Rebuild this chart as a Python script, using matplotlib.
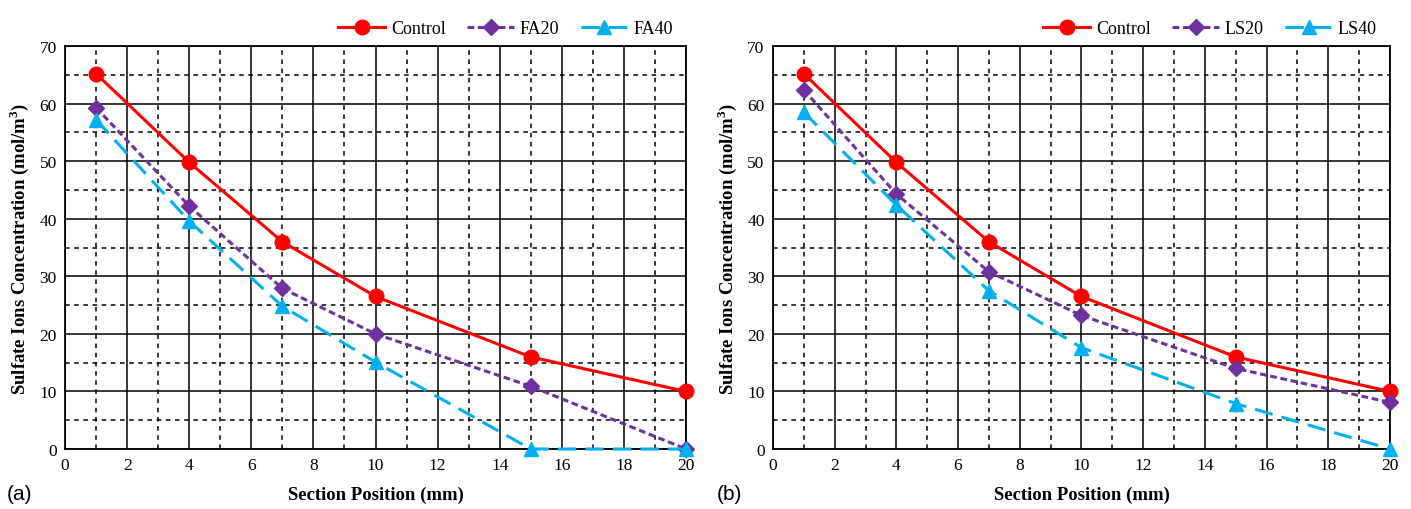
import matplotlib
matplotlib.use("Agg")
import matplotlib.pyplot as plt
from matplotlib.ticker import MultipleLocator

x = [1, 4, 7, 10, 15, 20]
control = [65.2, 49.8, 36.0, 26.5, 16.0, 10.0]
fa20 = [59.3, 42.2, 27.9, 20.0, 10.9, 0.0]
fa40 = [57.2, 39.6, 24.8, 15.1, 0.0, 0.0]
ls20 = [62.4, 44.3, 30.8, 23.2, 14.0, 8.1]
ls40 = [58.5, 42.4, 27.5, 17.6, 7.9, 0.0]

panels = [
    ("(a)", [("Control", control), ("FA20", fa20), ("FA40", fa40)]),
    ("(b)", [("Control", control), ("LS20", ls20), ("LS40", ls40)]),
]

serif = "Liberation Serif"
fig = plt.figure(figsize=(14.11, 5.10), dpi=100)
rects = [[0.0461, 0.1176, 0.4401, 0.790], [0.5478, 0.1176, 0.4373, 0.790]]
tag_x = [0.005, 0.508]

styles = [
    dict(color="#FF0000", linestyle="-", marker="o", markersize=10.5),
    dict(color="#7030A0", linestyle=(0, (2.2, 1.2)), marker="D", markersize=8),
    dict(color="#00B0F0", linestyle=(0, (6, 3)), marker="^", markersize=9.5),
]

for (tag, series), rect, tx in zip(panels, rects, tag_x):
    ax = fig.add_axes(rect)
    for (name, vals), st in zip(series, styles):
        ax.plot(x, vals, label=name, linewidth=2.2, clip_on=False, zorder=5, **st)
    ax.set_xlim(0, 20)
    ax.set_ylim(0, 70)
    ax.xaxis.set_major_locator(MultipleLocator(2))
    ax.xaxis.set_minor_locator(MultipleLocator(1))
    ax.yaxis.set_major_locator(MultipleLocator(10))
    ax.yaxis.set_minor_locator(MultipleLocator(5))
    ax.grid(which="major", color="black", linewidth=1.1, linestyle="-")
    ax.grid(which="minor", color="black", linewidth=1.1, linestyle=(0, (3, 3)))
    ax.set_axisbelow(True)
    ax.tick_params(which="both", length=0, labelsize=12.5, pad=6)
    for lab in ax.get_xticklabels() + ax.get_yticklabels():
        lab.set_fontfamily(serif)
    for sp in ax.spines.values():
        sp.set_linewidth(1.3)
    ax.set_xlabel("Section Position (mm)", fontfamily=serif, fontweight="bold", fontsize=13.5, labelpad=9)
    ax.set_ylabel("Sulfate Ions Concentration (mol/m$^\\mathregular{3}$)", fontfamily=serif,
                  fontweight="bold", fontsize=13.5, labelpad=6)
    ax.legend(loc="lower right", bbox_to_anchor=(0.99, 1.005), ncol=3, frameon=False,
              prop={"family": serif, "size": 13}, handlelength=2.6, columnspacing=1.2,
              handletextpad=0.3, borderaxespad=0.0)
    fig.text(tx, 0.031, tag, fontsize=15, fontfamily="Liberation Sans", va="center", ha="left")

fig.savefig("out.png", dpi=100)
